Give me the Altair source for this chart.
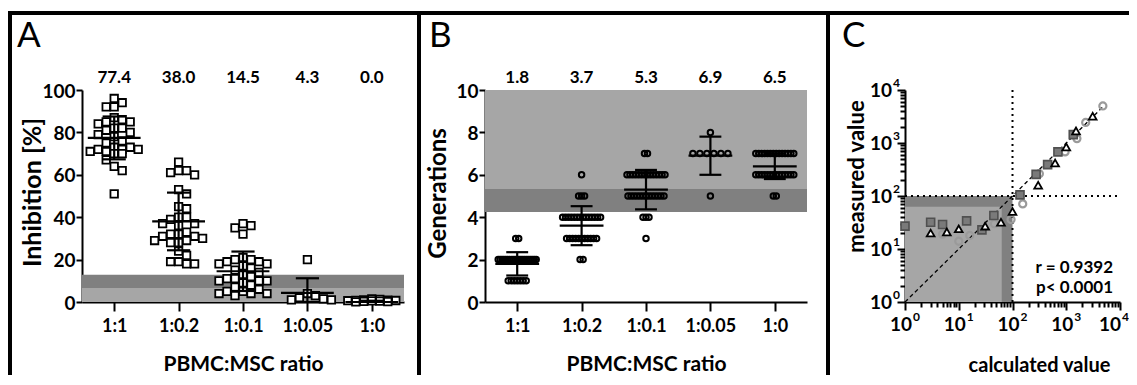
import json
import altair as alt
import pandas as pd

# ------------------------------------------------------------------ data
ratios = ["1:1", "1:0.2", "1:0.1", "1:0.05", "1:0"]

# Panel A - inhibition [%]
inh_1_1 = [96, 94, 92, 92, 87, 86, 85, 85, 84, 82, 82, 81, 80, 79, 78, 76, 75, 73, 73, 72,
           72, 72, 71, 71, 70, 70, 67, 64, 62, 51]
inh_1_02 = [66, 62, 62, 61, 60, 53, 51, 45, 44, 40, 40, 39, 37, 37, 36, 33, 32, 32, 31, 31,
            30, 29, 29, 28, 28, 24, 22, 19, 19, 18, 18]
inh_1_01 = [37, 36, 35, 32, 21, 20, 20, 19, 19, 18, 18, 17, 16, 15, 14, 13, 12, 11, 11, 10,
            10, 10, 9, 9, 8, 8, 7, 6, 5, 5, 4, 4, 4, 3]
inh_1_005 = [20, 4, 3, 2, 1.5, 1, 1]
inh_1_0 = [1.5, 1.2, 1.0, 0.9, 0.8, 0.7, 0.6, 0.5, 0.4, 0.3, 0.2, 0.1]
inh_mean = [77.4, 38.0, 14.5, 4.3, 0.0]
inh_sd = [10.1, 13.6, 9.3, 6.9, 0.6]
inh_labels = ["77.4", "38.0", "14.5", "4.3", "0.0"]
inh_light_band = [0, 6.6]
inh_dark_band = [6.6, 12.8]

# Panel B - generations
gen_1_1 = [3, 3,
           2, 2, 2, 2, 2, 2, 2, 2, 2, 2, 2, 2, 2, 2, 2, 2, 2, 2, 2, 2, 2,
           1, 1, 1, 1, 1, 1, 1]
gen_1_02 = [6, 5, 5, 5,
            4, 4, 4, 4, 4, 4, 4, 4, 4, 4, 4, 4, 4, 4,
            3, 3, 3, 3, 3, 3, 3, 3, 3, 3, 3,
            2, 2]
gen_1_01 = [7, 7,
            6, 6, 6, 6, 6, 6, 6, 6, 6, 6, 6, 6, 6, 6,
            5, 5, 5, 5, 5, 5, 5, 5, 5, 5, 5, 5, 5,
            4, 4, 4, 3]
gen_1_005 = [8, 7, 7, 7, 7, 7, 7, 5]
gen_1_0 = [7, 7, 7, 7, 7, 7, 7, 7, 7, 7, 7, 7, 7, 7,
           6, 6, 6, 6, 6, 6, 6, 6, 6, 6, 6, 6, 6, 6,
           5, 5]
gen_mean = [1.8, 3.6, 5.3, 6.9, 6.4]
gen_sd = [0.55, 0.92, 0.93, 0.9, 0.6]
gen_labels = ["1.8", "3.7", "5.3", "6.9", "6.5"]
gen_light_band = [5.33, 10]
gen_dark_band = [4.25, 5.33]

# Panel C - calculated vs measured
sq_calc = [1, 3, 5, 14, 27, 45, 138, 275, 450, 700, 1350]
sq_meas = [27, 32, 29, 34, 23, 43, 105, 256, 390, 680, 1440]
tri_calc = [3, 6, 10, 31, 61, 100, 300, 620, 1000, 1520, 3100]
tri_meas = [20, 21, 24, 27, 32, 51, 160, 420, 840, 1690, 3200]
cir_calc = [5, 10, 16, 46, 94, 155, 316, 950, 1580, 2300, 4800]
cir_meas = [19, 14, 18, 30, 36, 71, 264, 680, 1210, 2440, 5000]
c_dark_box = [1, 100]
c_light_box = [1, 63]
c_cut = 100
c_diag = [1, 5000]
c_domain = [1, 10000]
c_major = [1, 10, 100, 1000, 10000]
c_major_base = ["10", "10", "10", "10", "10"]
c_major_exp = ["0", "1", "2", "3", "4"]
c_stats = ["r = 0.9392", "p< 0.0001"]

# ------------------------------------------------------------------ layout / style
FONT = "Lato"
W_AB, H = 322, 212
W_C = 215
STEP = W_AB / 5.0
LIGHT = "#a6a6a6"
DARK = "#808080"


def swarm(values, px_per_unit, marker_px, max_half_px):
    placed, offs = [], [0.0] * len(values)
    order = sorted(range(len(values)), key=lambda i: -values[i])
    cands = [0.0]
    d = 0.5
    while d <= max_half_px:
        cands += [d, -d]
        d += 0.5
    for i in order:
        y = values[i] * px_per_unit
        best, best_cost = 0.0, None
        for c in cands:
            n = sum(1 for (px, py) in placed if abs(px - c) < marker_px and abs(py - y) < marker_px)
            cost = (n, abs(c))
            if best_cost is None or cost < best_cost:
                best, best_cost = c, cost
            if n == 0:
                break
        placed.append((best, y))
        offs[i] = best
    return offs


def rows(values, gap_px, max_spread_px):
    counts = {}
    for v in values:
        counts[v] = counts.get(v, 0) + 1
    seen, offs = {}, []
    for v in values:
        k = counts[v]
        j = seen.get(v, 0)
        seen[v] = j + 1
        gap = gap_px if k < 2 else min(gap_px, max_spread_px / (k - 1))
        offs.append((j - (k - 1) / 2.0) * gap)
    return offs


cat_expr = json.dumps(ratios) + "[datum.value]"

AX = dict(domainColor="black", domainWidth=2, tickColor="black", tickWidth=2,
          labelFont=FONT, labelFontWeight="bold", labelColor="black",
          titleFont=FONT, titleFontWeight="bold", titleColor="black",
          grid=False, labelFlush=False, labelOverlap=False)

x_cat_axis = alt.Axis(values=[0, 1, 2, 3, 4], labelExpr=cat_expr, tickSize=9, labelPadding=20,
                      labelFontSize=18, labelBaseline="alphabetic", title="PBMC:MSC ratio", titleFontSize=21,
                      titleX=W_AB / 2, titleY=68, titleBaseline="alphabetic", titleAlign="center",
                      **AX)
x_cat_scale = alt.Scale(domain=[-0.5, 4.5], nice=False, zero=False)


def y_axis(vals, title, tx, ty, tfs):
    return alt.Axis(values=vals, tickSize=6, labelPadding=1, labelFontSize=19, labelBaseline="alphabetic",
                    labelOffset=7, title=title, titleFontSize=tfs, titleAngle=270, titleX=tx, titleY=ty,
                    titleBaseline="alphabetic", titleAlign="center", **AX)


def summary(means, sds, labels, half_mean, half_cap, floor):
    out = []
    for i, (m, s) in enumerate(zip(means, sds)):
        out.append(dict(i=i, m=m, lo=max(m - s, floor), hi=m + s, ml=i - half_mean,
                        mr=i + half_mean, cl=i - half_cap, cr=i + half_cap, label=labels[i]))
    return pd.DataFrame(out)


def letter_layer(letter, lx):
    return alt.Chart(pd.DataFrame({"t": [letter]})).mark_text(
        font=FONT, fontSize=35, align="left", baseline="alphabetic", color="black").encode(
        x=alt.value(lx), y=alt.value(-43), text="t:N")


def panel(points_df, shape, psize, pstroke, filled, summ, y_scale, y_ax, bands, letter, letter_x, extra=None):
    X = lambda f: alt.X(f, scale=x_cat_scale, axis=x_cat_axis)
    Y = lambda f: alt.Y(f, scale=y_scale, axis=y_ax)
    layers = []
    for (lo, hi), col in bands:
        layers.append(alt.Chart(pd.DataFrame({"lo": [lo], "hi": [hi]})).mark_rect(color=col).encode(
            x=alt.value(0), x2=alt.value(W_AB), y=Y("lo:Q"), y2="hi:Q"))
    if filled:
        pm = alt.Chart(points_df).mark_point(shape=shape, filled=True, fill="white", stroke="black",
                                             strokeWidth=pstroke, size=psize, opacity=1)
    else:
        pm = alt.Chart(points_df).mark_point(shape=shape, filled=False, color="black",
                                             strokeWidth=pstroke, size=psize, opacity=1)
    layers.append(pm.encode(x=X("xpos:Q"), y=Y("value:Q")))
    sw = 2.2
    layers.append(alt.Chart(summ).mark_rule(color="black", strokeWidth=sw).encode(x=X("i:Q"), y=Y("lo:Q"), y2="hi:Q"))
    layers.append(alt.Chart(summ).mark_rule(color="black", strokeWidth=sw).encode(x=X("ml:Q"), x2="mr:Q", y=Y("m:Q")))
    layers.append(alt.Chart(summ).mark_rule(color="black", strokeWidth=sw).encode(x=X("cl:Q"), x2="cr:Q", y=Y("hi:Q")))
    layers.append(alt.Chart(summ).transform_filter("datum.m - datum.lo > 0.05").mark_rule(color="black", strokeWidth=sw).encode(
        x=X("cl:Q"), x2="cr:Q", y=Y("lo:Q")))
    layers.append(alt.Chart(summ).mark_text(font=FONT, fontWeight="bold", fontSize=17, baseline="alphabetic",
                                            color="black").encode(
        x=X("i:Q"), y=alt.value(-7), text="label:N"))
    layers.append(letter_layer(letter, letter_x))
    if extra:
        layers += extra
    return alt.layer(*layers).properties(width=W_AB, height=H)


# ---- Panel A
inh_groups = [inh_1_1, inh_1_02, inh_1_01, inh_1_005, inh_1_0]
rows_a = []
for gi, vals in enumerate(inh_groups):
    offs = swarm(vals, H / 100.0, 8.0, 27.0)
    for v, o in zip(vals, offs):
        rows_a.append({"xpos": gi + o / STEP, "value": v})
pts_a = pd.DataFrame(rows_a)

# frame (black bars) drawn from panel A, pixel positions relative to panel A
frame_df = pd.DataFrame({"k": [0]})
frame = []
for (x1, x2, y1, y2) in [(-74, 1047, -79, -75), (-74, -70, -79, 285), (335, 339, -79, 285), (744, 748, -79, 285)]:
    frame.append(alt.Chart(frame_df).mark_rect(color="black").encode(
        x=alt.value(x1), x2=alt.value(x2), y=alt.value(y1), y2=alt.value(y2)))

chart_a = panel(pts_a, "square", 56, 1.8, True,
                summary(inh_mean, inh_sd, inh_labels, 0.41, 0.18, 0.0),
                alt.Scale(domain=[0, 100], nice=False),
                y_axis([0, 20, 40, 60, 80, 100], "Inhibition [%]", -42, 102, 25),
                [(inh_light_band, LIGHT), (inh_dark_band, DARK)], "A", -65, extra=frame)

# ---- Panel B
gen_groups = [gen_1_1, gen_1_02, gen_1_01, gen_1_005, gen_1_0]
gen_gap = [3.0, 3.0, 3.0, 7.0, 3.0]
rows_b = []
for gi, vals in enumerate(gen_groups):
    offs = rows(vals, gen_gap[gi], 38.0)
    for v, o in zip(vals, offs):
        rows_b.append({"xpos": gi + o / STEP, "value": v})
pts_b = pd.DataFrame(rows_b)

chart_b = panel(pts_b, "circle", 30, 2.0, False,
                summary(gen_mean, gen_sd, gen_labels, 0.34, 0.17, 0.0),
                alt.Scale(domain=[0, 10], nice=False),
                y_axis([0, 2, 4, 6, 8, 10], "Generations", -40, 103, 24),
                [(gen_light_band, LIGHT), (gen_dark_band, DARK)], "B", -56)

# ---- Panel C
major_json = json.dumps(c_major)
is_major = f"indexof({major_json}, datum.value) >= 0"
log_ticks = [m * k for m in c_major[:-1] for k in range(1, 10)] + [c_major[-1]]
tick_size = {"condition": {"test": is_major, "value": 8}, "value": 5}
log_scale = alt.Scale(type="log", domain=c_domain, nice=False)
AXC = dict(AX)
AXC["labels"] = False
cx_axis = alt.Axis(values=log_ticks, tickSize=tick_size,
                   title="calculated value", titleFontSize=20,
                   titleX=134, titleY=69, titleBaseline="alphabetic", titleAlign="center", **AXC)
cy_axis = alt.Axis(values=log_ticks, tickSize=tick_size,
                   title="measured value", titleFontSize=22,
                   titleAngle=270, titleX=-42, titleY=86, titleBaseline="alphabetic", titleAlign="center", **AXC)
CX = lambda f: alt.X(f, scale=log_scale, axis=cx_axis)
CY = lambda f: alt.Y(f, scale=log_scale, axis=cy_axis)

box = lambda b: pd.DataFrame({"a": [b[0]], "b": [b[1]]})
cut_df = pd.DataFrame({"c": [c_cut], "lo": [c_domain[0]], "hi": [c_domain[1]]})
lab_df = pd.DataFrame({"m": c_major, "base": c_major_base, "exp": c_major_exp})
last = f"datum.m == {c_major[-1]}"
BASE_FS, SUP_FS = 19, 12


def xlab(filt, dx_base):
    base = alt.Chart(lab_df).transform_filter(filt)
    return [
        base.mark_text(font=FONT, fontWeight="bold", fontSize=BASE_FS, align="right",
                       baseline="alphabetic", dx=dx_base, color="black").encode(
            x=CX("m:Q"), y=alt.value(H + 29), text="base:N"),
        base.mark_text(font=FONT, fontWeight="bold", fontSize=SUP_FS, align="left",
                       baseline="alphabetic", dx=dx_base + 1, color="black").encode(
            x=CX("m:Q"), y=alt.value(H + 19), text="exp:N"),
    ]


c_layers = [
    alt.Chart(box(c_dark_box)).mark_rect(color=DARK).encode(x=CX("a:Q"), x2="b:Q", y=CY("a:Q"), y2="b:Q"),
    alt.Chart(box(c_light_box)).mark_rect(color=LIGHT).encode(x=CX("a:Q"), x2="b:Q", y=CY("a:Q"), y2="b:Q"),
    alt.Chart(cut_df).mark_rule(color="black", strokeWidth=2, strokeDash=[2, 4]).encode(
        x=CX("c:Q"), y=CY("lo:Q"), y2="hi:Q"),
    alt.Chart(cut_df).mark_rule(color="black", strokeWidth=2, strokeDash=[2, 4]).encode(
        y=CY("c:Q"), x=CX("lo:Q"), x2="hi:Q"),
    alt.Chart(pd.DataFrame({"v": c_diag})).mark_line(color="black", strokeWidth=1.3, strokeDash=[4, 3]).encode(
        x=CX("v:Q"), y=CY("v:Q")),
    alt.Chart(pd.DataFrame({"calc": cir_calc, "meas": cir_meas})).mark_point(
        shape="circle", filled=False, stroke="#9a9a9a", strokeWidth=2.2, size=50, opacity=1).encode(
        x=CX("calc:Q"), y=CY("meas:Q")),
    alt.Chart(pd.DataFrame({"calc": sq_calc, "meas": sq_meas})).mark_point(
        shape="square", filled=True, fill="#7a7a7a", stroke="#505050", strokeWidth=1.6, size=64, opacity=1).encode(
        x=CX("calc:Q"), y=CY("meas:Q")),
    alt.Chart(pd.DataFrame({"calc": tri_calc, "meas": tri_meas})).mark_point(
        shape="triangle-up", filled=True, fill="white", stroke="black", strokeWidth=1.8, size=60, opacity=1).encode(
        x=CX("calc:Q"), y=CY("meas:Q")),
]
# log axis labels 10^n (x axis); the last one is nudged so it stays inside the page
c_layers += xlab(f"!({last})", 7)
c_layers += xlab(last, 1)
c_layers += [
    # log axis labels 10^n (y axis)
    alt.Chart(lab_df).mark_text(font=FONT, fontWeight="bold", fontSize=BASE_FS, align="right",
                                baseline="alphabetic", dy=7, color="black").encode(
        y=CY("m:Q"), x=alt.value(-13), text="base:N"),
    alt.Chart(lab_df).mark_text(font=FONT, fontWeight="bold", fontSize=SUP_FS, align="left",
                                baseline="alphabetic", dy=-3, color="black").encode(
        y=CY("m:Q"), x=alt.value(-12), text="exp:N"),
    alt.Chart(pd.DataFrame({"t": c_stats, "yy": [183, 203]})).mark_text(
        font=FONT, fontWeight="bold", fontSize=17, align="right", baseline="alphabetic", color="black").encode(
        x=alt.value(208), y=alt.Y("yy:Q", scale=None), text="t:N"),
    letter_layer("C", -63),
]
chart_c = alt.layer(*c_layers).properties(width=W_C, height=H)


def spacer(w):
    return alt.Chart(pd.DataFrame({"k": [0]})).mark_point(opacity=0).encode(
        x=alt.value(0), y=alt.value(0)).properties(width=w, height=H)


full = alt.hconcat(chart_a, spacer(81), chart_b, spacer(98), chart_c, spacing=0, bounds="flush").properties(
    padding={"left": 0, "top": 3, "right": 0, "bottom": 0}, background="white"
).configure(font=FONT, view=alt.ViewConfig(strokeWidth=0, stroke="transparent"))

full.save("out.html", embed_options={"renderer": "svg", "actions": False})
